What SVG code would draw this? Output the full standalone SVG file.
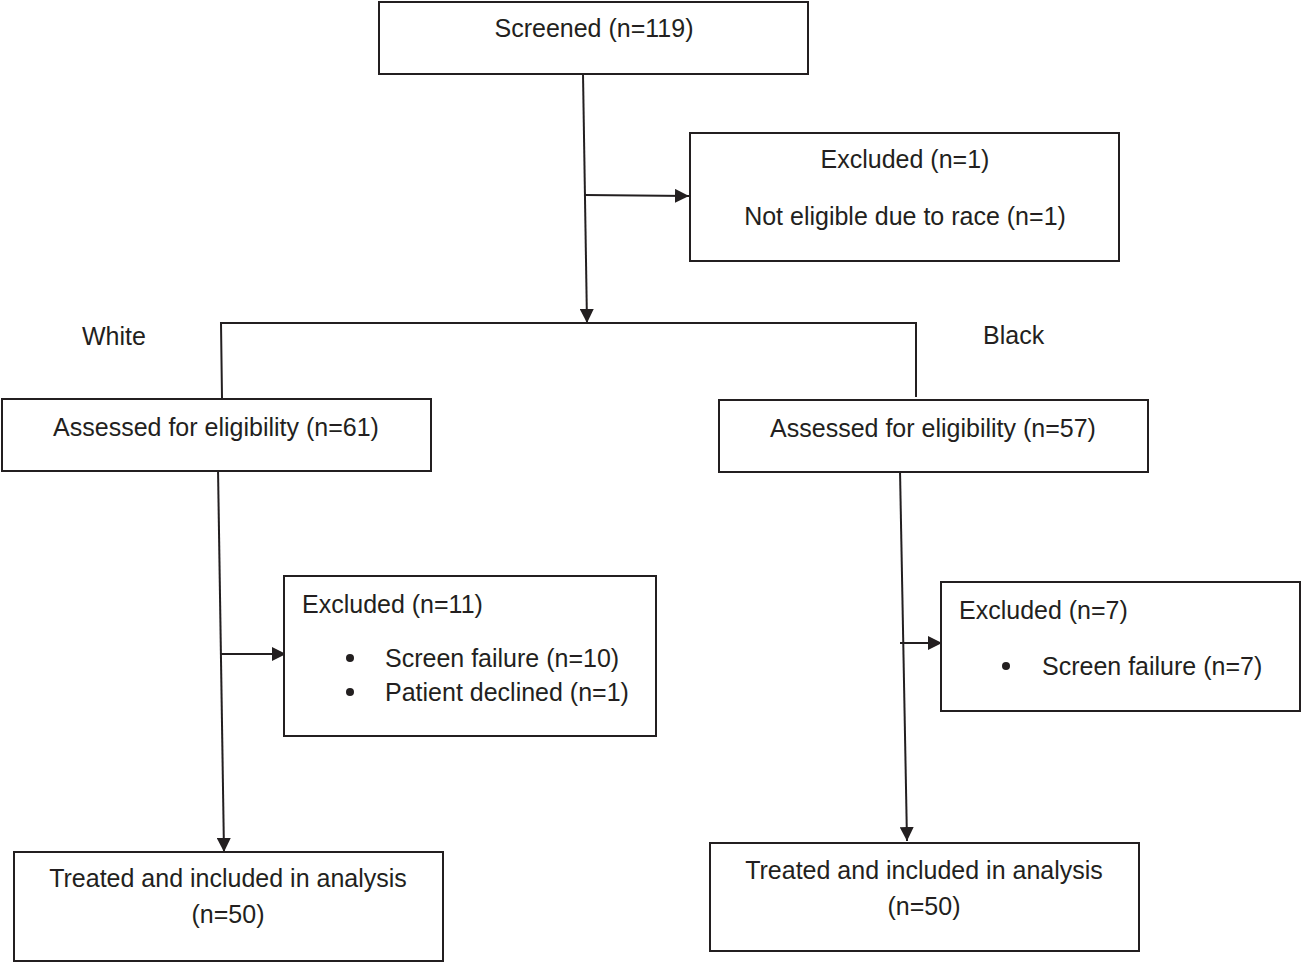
<svg xmlns="http://www.w3.org/2000/svg" width="1302" height="963" viewBox="0 0 1302 963">
<defs>
<style>
.box{fill:#fff;stroke:#231f20;stroke-width:2}
.ln{fill:none;stroke:#231f20;stroke-width:2}
text{font-family:"Liberation Sans",Arial,sans-serif;font-size:25px;fill:#231f20}
.c{text-anchor:middle}
</style>
<marker id="ah" viewBox="0 0 14 14" refX="14" refY="7" markerWidth="14" markerHeight="14" markerUnits="userSpaceOnUse" orient="auto">
<path d="M0,0 L14,7 L0,14 Z" fill="#231f20"/>
</marker>
</defs>
<rect width="1302" height="963" fill="#fff"/>
<g id="connectors">
<line class="ln" x1="583" y1="74" x2="587" y2="323" marker-end="url(#ah)"/>
<line class="ln" x1="585" y1="195" x2="689" y2="196" marker-end="url(#ah)"/>
<polyline class="ln" points="222,398 221,323 916,323 916,397"/>
<line class="ln" x1="218" y1="468" x2="224" y2="852" marker-end="url(#ah)"/>
<line class="ln" x1="221" y1="654" x2="286" y2="654" marker-end="url(#ah)"/>
<line class="ln" x1="900" y1="470" x2="907" y2="841" marker-end="url(#ah)"/>
<line class="ln" x1="900" y1="643" x2="942" y2="643" marker-end="url(#ah)"/>
</g>
<g id="screened">
<rect class="box" x="379" y="2" width="429" height="72"/>
<text class="c" x="594" y="37">Screened (n=119)</text>
</g>
<g id="excluded1">
<rect class="box" x="690" y="133" width="429" height="128"/>
<text class="c" x="905" y="168">Excluded (n=1)</text>
<text class="c" x="905" y="225">Not eligible due to race (n=1)</text>
</g>
<g id="label-white"><text x="82" y="345">White</text></g>
<g id="label-black"><text x="983" y="344">Black</text></g>
<g id="assessed-white">
<rect class="box" x="2" y="399" width="429" height="72"/>
<text class="c" x="216" y="436">Assessed for eligibility (n=61)</text>
</g>
<g id="assessed-black">
<rect class="box" x="719" y="400" width="429" height="72"/>
<text class="c" x="933" y="437">Assessed for eligibility (n=57)</text>
</g>
<g id="excluded-white">
<rect class="box" x="284" y="576" width="372" height="160"/>
<text x="302" y="613">Excluded (n=11)</text>
<circle cx="350" cy="658" r="4" fill="#231f20"/>
<text x="385" y="667">Screen failure (n=10)</text>
<circle cx="350" cy="692" r="4" fill="#231f20"/>
<text x="385" y="701">Patient declined (n=1)</text>
</g>
<g id="excluded-black">
<rect class="box" x="941" y="582" width="359" height="129"/>
<text x="959" y="619">Excluded (n=7)</text>
<circle cx="1006" cy="666" r="4" fill="#231f20"/>
<text x="1042" y="675">Screen failure (n=7)</text>
</g>
<g id="treated-white">
<rect class="box" x="14" y="852" width="429" height="109"/>
<text class="c" x="228" y="887">Treated and included in analysis</text>
<text class="c" x="228" y="923">(n=50)</text>
</g>
<g id="treated-black">
<rect class="box" x="710" y="843" width="429" height="108"/>
<text class="c" x="924" y="879">Treated and included in analysis</text>
<text class="c" x="924" y="915">(n=50)</text>
</g>
</svg>
